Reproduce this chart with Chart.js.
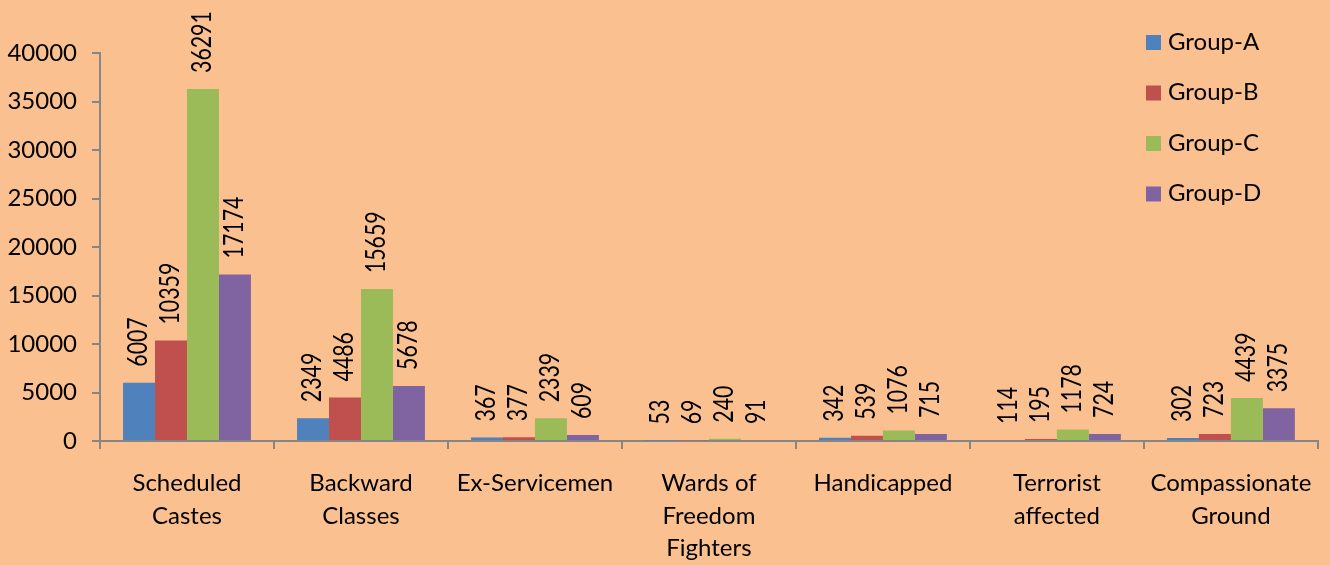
<!DOCTYPE html>
<html>
<head>
<meta charset="utf-8">
<script src="https://cdn.jsdelivr.net/npm/chart.js@4.4.0/dist/chart.umd.min.js"></script>
<style>
    html, body { margin: 0; padding: 0; background: #FAC090; }
    #wrap { width: 1330px; height: 565px; }
</style>
</head>
<body>
<div id="wrap"><canvas id="barChart" width="1330" height="565"></canvas></div>
<script>
const categories = [
    ["Scheduled", "Castes"],
    ["Backward", "Classes"],
    ["Ex-Servicemen"],
    ["Wards of", "Freedom", "Fighters"],
    ["Handicapped"],
    ["Terrorist", "affected"],
    ["Compassionate", "Ground"]
];
const groupA = [6007, 2349, 367, 53, 342, 114, 302];
const groupB = [10359, 4486, 377, 69, 539, 195, 723];
const groupC = [36291, 15659, 2339, 240, 1076, 1178, 4439];
const groupD = [17174, 5678, 609, 91, 715, 724, 3375];
const seriesNames = ["Group-A", "Group-B", "Group-C", "Group-D"];
const seriesColors = ["#4F81BD", "#C0504D", "#9BBB59", "#8064A2"];

const fontName = "Lato, 'Open Sans', sans-serif";

// value labels written upwards above each bar (squeezed a bit, like the original)
const barLabels = {
    id: "barLabels",
    afterDatasetsDraw(chart) {
        let ctx = chart.ctx;
        ctx.save();
        ctx.fillStyle = "#000";
        ctx.font = "26px " + fontName;
        ctx.textAlign = "left";
        ctx.textBaseline = "middle";
        chart.data.datasets.forEach(function(ds, i) {
            chart.getDatasetMeta(i).data.forEach(function(bar, j) {
                ctx.save();
                ctx.translate(bar.x, bar.y - 16);
                ctx.rotate(-Math.PI / 2);
                ctx.scale(0.82, 1);
                ctx.fillText(String(ds.data[j]), 0, 0);
                ctx.restore();
            });
        });
        ctx.restore();
    }
};

// legend drawn inside the plot at the top right
const cornerLegend = {
    id: "cornerLegend",
    afterDraw(chart) {
        let ctx = chart.ctx;
        ctx.save();
        ctx.font = "24px " + fontName;
        ctx.textBaseline = "middle";
        ctx.textAlign = "left";
        chart.data.datasets.forEach(function(ds, i) {
            let y = 42 + i * 50.5;
            ctx.fillStyle = ds.backgroundColor;
            ctx.fillRect(1146, y - 7, 15, 15);
            ctx.fillStyle = "#000";
            ctx.fillText(ds.label, 1168, y);
        });
        ctx.restore();
    }
};

document.addEventListener("DOMContentLoaded", function() {
    let ctx = document.getElementById("barChart").getContext("2d");
    let allSeries = [groupA, groupB, groupC, groupD];
    let barChart = new Chart(ctx, {
        type: "bar",
        data: {
            labels: categories,
            datasets: allSeries.map(function(vals, i) {
                return {
                    label: seriesNames[i],
                    data: vals,
                    backgroundColor: seriesColors[i],
                    borderWidth: 0,
                    barPercentage: 1.0,
                    categoryPercentage: 0.735
                };
            })
        },
        options: {
            responsive: false,
            maintainAspectRatio: false,
            animation: false,
            layout: { padding: { top: 53, right: 8, left: 0, bottom: 0 } },
            plugins: {
                legend: { display: false },
                tooltip: { enabled: false }
            },
            scales: {
                x: {
                    afterFit: function(axis) { axis.height = 124; },
                    grid: {
                        drawOnChartArea: false,
                        drawTicks: true,
                        tickLength: 8,
                        color: "#868686",
                        lineWidth: 2
                    },
                    border: { display: true, color: "#868686", width: 2 },
                    ticks: {
                        color: "#000",
                        font: { family: fontName, size: 24, lineHeight: 1.36 },
                        padding: 18,
                        maxRotation: 0,
                        autoSkip: false
                    }
                },
                y: {
                    min: 0,
                    max: 40000,
                    afterFit: function(axis) { axis.width = 100; },
                    grid: {
                        drawOnChartArea: false,
                        drawTicks: true,
                        tickLength: 8,
                        color: "#868686",
                        lineWidth: 2
                    },
                    border: { display: true, color: "#868686", width: 2 },
                    ticks: {
                        stepSize: 5000,
                        color: "#000",
                        font: { family: fontName, size: 24 },
                        padding: 15,
                        callback: function(v) { return String(v); }
                    }
                }
            }
        },
        plugins: [barLabels, cornerLegend]
    });
});
</script>
</body>
</html>
